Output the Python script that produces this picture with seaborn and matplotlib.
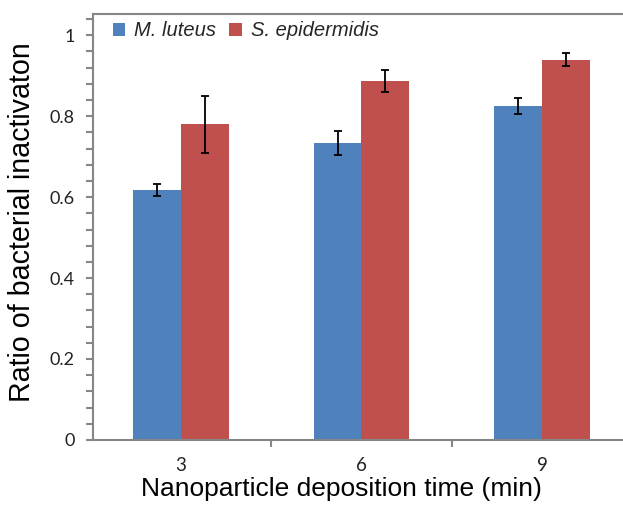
import pandas as pd
import seaborn as sns
import matplotlib.pyplot as plt
from matplotlib.ticker import MultipleLocator, FixedLocator

# data
times = ["3", "6", "9"]
species = ["M. luteus", "S. epidermidis"]
m_luteus = [0.618, 0.733, 0.825]
m_luteus_err = [0.015, 0.030, 0.020]
s_epidermidis = [0.780, 0.887, 0.940]
s_epidermidis_err = [0.070, 0.028, 0.017]

df = pd.DataFrame({
    "time": times * 2,
    "ratio": m_luteus + s_epidermidis,
    "species": [species[0]] * 3 + [species[1]] * 3,
})

sns.set_theme(style="white")
plt.rcParams["font.family"] = ["Liberation Sans", "DejaVu Sans"]

grey = "#868686"
colors = ["#4F81BD", "#C0504D"]

fig = plt.figure(figsize=(6.23, 5.08), dpi=100)
# axes run past the right edge, like the cropped original
ax = fig.add_axes([0.149, 0.134, 0.8668, 0.838])

sns.barplot(data=df, x="time", y="ratio", hue="species", palette=colors,
            width=0.53, errorbar=None, saturation=1, ax=ax, linewidth=0)

# error bars at the bar centres
for cont, errs in zip(ax.containers, [m_luteus_err, s_epidermidis_err]):
    xs = [p.get_x() + p.get_width() / 2 for p in cont]
    ys = [p.get_height() for p in cont]
    ax.errorbar(xs, ys, yerr=errs, fmt="none", ecolor="black",
                elinewidth=1.3, capsize=3, capthick=1.3, zorder=5)

ax.set_xlim(-0.485, 2.5)
ax.set_ylim(0, 1.052)

ax.set_yticks([0, 0.2, 0.4, 0.6, 0.8, 1.0])
ax.set_yticklabels(["0", "0.2", "0.4", "0.6", "0.8", "1"])
ax.yaxis.set_minor_locator(MultipleLocator(0.04))
ax.xaxis.set_minor_locator(FixedLocator([0.5, 1.5, 2.5]))

for sp in ax.spines.values():
    sp.set_color(grey)
    sp.set_linewidth(1.5)

ax.tick_params(axis="x", which="major", length=0, pad=12, labelsize=13.5)
ax.tick_params(axis="x", which="minor", length=5, width=1.5,
               color=grey, direction="out", bottom=True)
ax.tick_params(axis="y", which="both", length=5, width=1.5,
               color=grey, direction="out", left=True, pad=8)
ax.tick_params(axis="y", which="major", labelsize=13)
for lab in ax.get_xticklabels() + ax.get_yticklabels():
    lab.set_fontfamily(["Lato", "DejaVu Sans"])
    lab.set_color("#222222")

ax.set_xlabel("Nanoparticle deposition time (min)", fontsize=19,
              color="black")
ax.set_ylabel("Ratio of bacterial inactivaton", fontsize=20.6,
              color="black")
ax.xaxis.set_label_coords(0.46, -0.088)
ax.yaxis.set_label_coords(-0.106, 0.512)

ax.legend(loc="center left", bbox_to_anchor=(0.037, 0.961), ncol=2,
          frameon=False, borderpad=0, borderaxespad=0,
          handlelength=0.62, handleheight=0.62, handletextpad=0.45,
          columnspacing=0.65, prop={"style": "italic", "size": 14.5})

fig.savefig("out.png", dpi=100)
